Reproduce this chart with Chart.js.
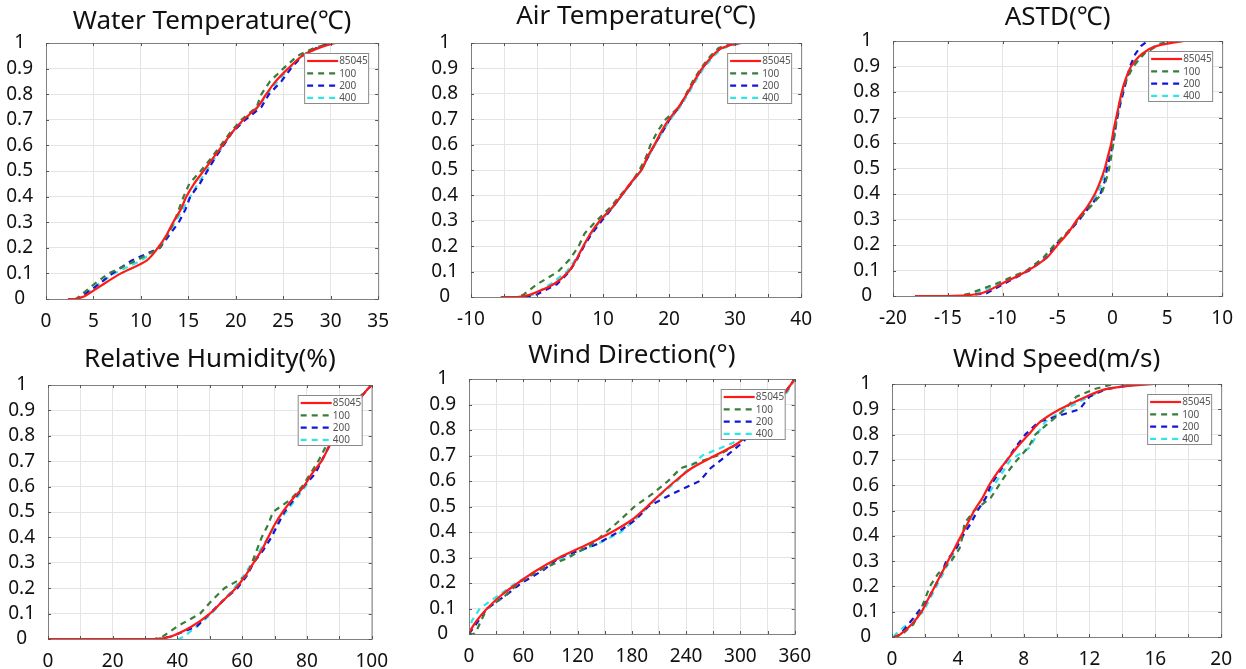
<!DOCTYPE html>
<html>
<head>
<meta charset="utf-8">
<script src="https://cdn.jsdelivr.net/npm/chart.js@4.4.1/dist/chart.umd.min.js"></script>
<style>
    html, body { margin: 0; padding: 0; background: #fff; overflow: hidden; }
    body { width: 1246px; height: 669px; position: relative; }
    canvas { position: absolute; }
</style>
</head>
<body>
<canvas id="c0"></canvas>
<canvas id="c1"></canvas>
<canvas id="c2"></canvas>
<canvas id="c3"></canvas>
<canvas id="c4"></canvas>
<canvas id="c5"></canvas>
<script>
// cumulative probability levels shared by every curve (0 and 1 repeated for the flat tails)
const levels = [0, 0, 0.01, 0.05, 0.1, 0.15, 0.2, 0.25, 0.3, 0.35, 0.4, 0.45, 0.5, 0.55, 0.6, 0.65, 0.7, 0.75, 0.8, 0.85, 0.9, 0.95, 0.98, 1, 1];
const seriesNames = ['85045', '100', '200', '400'];

// Water temperature, x value reached at each level
const water85045 = [2.3, 3.0, 4.0, 5.7, 7.9, 10.6, 11.8, 12.7, 13.4, 14.2, 14.8, 15.6, 16.6, 17.6, 18.6, 19.6, 20.8, 22.3, 23.2, 24.2, 25.5, 27.0, 28.7, 30.5, 31.5];
const water100   = [3.0, 3.2, 3.5, 4.8, 6.6, 9.5, 12.0, 12.8, 13.5, 14.0, 14.5, 15.1, 16.3, 17.4, 18.4, 19.4, 20.6, 22.2, 22.7, 23.6, 25.0, 26.5, 28.2, 30.0, 30.5];
const water200   = [3.0, 3.2, 3.7, 5.3, 7.0, 9.0, 12.0, 13.0, 14.0, 14.7, 15.2, 16.2, 17.0, 17.8, 18.7, 19.6, 21.0, 22.7, 23.5, 24.8, 25.8, 27.0, 28.5, 30.0, 30.5];
const water400   = [3.2, 3.4, 3.8, 5.2, 7.2, 10.0, 12.0, 12.8, 13.6, 14.4, 15.2, 16.0, 16.9, 17.8, 18.7, 19.6, 20.9, 22.4, 23.3, 24.4, 25.6, 27.0, 28.5, 30.5, 31.0];

// Air temperature
const air85045 = [-5.5, -3.0, -1.0, 2.5, 4.8, 6.0, 7.0, 8.1, 9.5, 11.3, 12.8, 14.2, 15.8, 16.7, 17.8, 18.8, 20.0, 21.5, 22.7, 23.8, 25.0, 26.6, 28.0, 31.0, 35.5];
const air100   = [-4.0, -3.0, -2.0, 0.0, 3.2, 5.0, 6.3, 7.2, 9.0, 11.0, 12.6, 14.3, 15.5, 16.5, 17.2, 18.2, 19.5, 21.6, 22.6, 23.6, 24.8, 26.3, 27.5, 30.0, 34.0];
const air200   = [-3.5, -2.0, 0.0, 3.0, 4.9, 6.1, 7.1, 8.3, 9.8, 11.4, 12.8, 14.3, 15.8, 16.8, 17.8, 19.0, 20.1, 21.6, 22.7, 23.8, 25.0, 26.5, 27.8, 30.0, 34.0];
const air400   = [-3.0, -2.0, -0.5, 2.0, 4.5, 5.9, 7.0, 8.2, 9.6, 11.4, 12.9, 14.3, 15.9, 16.8, 17.9, 19.0, 20.2, 21.7, 22.9, 24.0, 25.2, 26.8, 28.2, 31.0, 33.0];

// ASTD
const astd85045 = [-18.0, -15.0, -12.0, -10.0, -7.7, -6.0, -5.0, -4.0, -3.2, -2.3, -1.6, -1.1, -0.7, -0.4, -0.1, 0.1, 0.35, 0.6, 0.85, 1.2, 1.7, 2.7, 4.0, 6.5, 7.2];
const astd100   = [-14.5, -14.0, -13.0, -10.5, -7.8, -6.3, -5.3, -4.1, -3.1, -2.0, -1.0, -0.6, -0.3, -0.1, 0.1, 0.25, 0.4, 0.6, 0.9, 1.3, 1.9, 2.9, 4.0, 5.0, 5.2];
const astd200   = [-14.5, -14.0, -11.5, -9.8, -7.6, -6.0, -5.2, -4.0, -3.0, -2.1, -1.1, -0.7, -0.5, -0.2, 0.05, 0.25, 0.45, 0.7, 1.0, 1.3, 1.6, 2.1, 2.6, 3.2, 3.5];
const astd400   = [-14.5, -14.0, -12.5, -10.2, -7.8, -6.2, -5.2, -4.1, -3.0, -2.1, -1.4, -0.9, -0.6, -0.3, 0.0, 0.2, 0.45, 0.7, 0.95, 1.3, 1.8, 2.8, 3.8, 4.8, 5.0];

// Relative humidity
const rh85045 = [0, 33, 38, 44.5, 50, 54, 58, 61, 63.5, 66, 68, 70, 72.5, 75.5, 79, 81.5, 84.5, 86.5, 88.5, 90.5, 93, 96.5, 98.5, 100, 100];
const rh100   = [32, 33, 35.5, 40, 47, 50.5, 54.5, 61.5, 63, 64.5, 66, 68, 69.5, 75, 78.5, 81, 83.5, 85.5, 88, 90, 92.5, 96, 98.5, 100, 100];
const rh200   = [33, 34, 38, 46, 50, 54, 58.5, 61.5, 63.5, 66.5, 69, 71, 73, 76, 79, 82.5, 84.5, 86.5, 88.5, 90.5, 93, 96.5, 98.5, 100, 100];
const rh400   = [40, 40.5, 42, 46, 50.5, 54, 57.5, 60.5, 63, 65.5, 68, 70.5, 73.5, 76.5, 79.5, 82, 84.5, 86.5, 88.5, 90.5, 93, 96.5, 98.5, 100, 100];

// Wind direction
const wd85045 = [0, 0, 1, 8, 20, 35, 54, 75, 100, 130, 158, 181, 197, 212, 228, 246, 272, 298, 312, 325, 338, 350, 356, 360, 360];
const wd100   = [0, 5, 8, 13, 20, 40, 55, 78, 110, 135, 152, 168, 183, 203, 220, 234, 275, 299, 312, 325, 338, 350, 356, 360, 360];
const wd200   = [0, 0, 2, 10, 20, 40, 58, 82, 100, 140, 165, 185, 198, 225, 255, 267, 285, 302, 315, 328, 340, 350, 356, 360, 360];
const wd400   = [0, 0, 0.5, 3, 12, 32, 52, 76, 105, 140, 168, 184, 198, 213, 230, 243, 258, 292, 314, 328, 340, 352, 357, 360, 360];

// Wind speed
const ws85045 = [0.1, 0.15, 0.5, 1.2, 1.8, 2.2, 2.6, 3.0, 3.4, 3.8, 4.2, 4.6, 5.0, 5.5, 5.9, 6.4, 7.0, 7.6, 8.3, 9.0, 10.2, 11.8, 13.0, 16.0, 19.0];
const ws100   = [0.1, 0.2, 0.6, 1.3, 1.7, 2.0, 2.3, 2.8, 3.6, 4.1, 4.3, 4.4, 5.0, 6.0, 6.5, 7.0, 7.6, 8.3, 8.7, 9.6, 10.5, 11.2, 12.3, 13.5, 14.0];
const ws200   = [0.1, 0.15, 0.5, 1.0, 1.6, 2.2, 2.6, 3.0, 3.3, 3.9, 4.3, 4.8, 5.2, 5.7, 6.0, 6.5, 7.0, 7.5, 8.1, 8.9, 11.4, 12.0, 13.0, 15.0, 15.5];
const ws400   = [0.1, 0.1, 0.2, 0.9, 1.9, 2.3, 2.7, 3.1, 3.5, 3.9, 4.3, 4.7, 5.2, 5.7, 6.2, 6.7, 7.2, 8.4, 8.8, 9.3, 10.5, 12.0, 13.0, 15.0, 15.5];

const panels = [
    { title: 'Water Temperature(℃)', xMin: 0, xMax: 35, gridStep: 5, labelStep: 5, series: [water85045, water100, water200, water400] },
    { title: 'Air Temperature(℃)', xMin: -10, xMax: 40, gridStep: 5, labelStep: 10, series: [air85045, air100, air200, air400] },
    { title: 'ASTD(℃)', xMin: -20, xMax: 10, gridStep: 5, labelStep: 5, series: [astd85045, astd100, astd200, astd400] },
    { title: 'Relative Humidity(%)', xMin: 0, xMax: 100, gridStep: 10, labelStep: 20, series: [rh85045, rh100, rh200, rh400] },
    { title: 'Wind Direction(°)', xMin: 0, xMax: 360, gridStep: 30, labelStep: 60, series: [wd85045, wd100, wd200, wd400] },
    { title: 'Wind Speed(m/s)', xMin: 0, xMax: 20, gridStep: 2, labelStep: 4, series: [ws85045, ws100, ws200, ws400] }
];

// plot box of each panel on the page (left, top, right, bottom) and title centre y
const boxes = [
    [46, 43, 380, 299, 22],
    [471, 43, 803, 297, 17],
    [893, 41, 1224, 296, 18],
    [48, 385, 379, 639, 360],
    [469, 379, 802, 634, 356],
    [892, 384, 1223, 637, 360]
];

const colors = ['#ff1a1a', '#3a7d3a', '#1515d8', '#2ee6e6'];
const FONT = "'Noto Sans', 'DejaVu Sans', sans-serif";
const Y_AXIS_W = 46, X_AXIS_H = 34, PAD_TOP = 45, PAD_RIGHT = 20;

// gray frame with small inward ticks, title and inset legend
const decorations = {
    id: 'decorations',
    afterDatasetsDraw(chart, args, opts) {
        const ctx = chart.ctx;
        const a = chart.chartArea;
        ctx.save();
        ctx.strokeStyle = '#808080';
        ctx.lineWidth = 1;
        ctx.strokeRect(a.left + 0.5, a.top + 0.5, a.right - a.left, a.bottom - a.top);

        ctx.strokeStyle = '#555';
        ctx.beginPath();
        chart.scales.x.ticks.forEach(function(t) {
            const px = Math.round(chart.scales.x.getPixelForValue(t.value)) + 0.5;
            ctx.moveTo(px, a.bottom); ctx.lineTo(px, a.bottom - 3);
            ctx.moveTo(px, a.top); ctx.lineTo(px, a.top + 3);
        });
        chart.scales.y.ticks.forEach(function(t) {
            const py = Math.round(chart.scales.y.getPixelForValue(t.value)) + 0.5;
            ctx.moveTo(a.left, py); ctx.lineTo(a.left + 3, py);
            ctx.moveTo(a.right, py); ctx.lineTo(a.right - 3, py);
        });
        ctx.stroke();

        // title
        ctx.fillStyle = '#111';
        ctx.font = '26px ' + FONT;
        ctx.textAlign = 'center';
        ctx.textBaseline = 'middle';
        ctx.fillText(opts.title, (a.left + a.right) / 2, opts.titleY);

        // legend
        const w = 64, h = 50;
        const lx = a.right - 10 - w, ly = a.top + 10;
        ctx.fillStyle = '#fff';
        ctx.fillRect(lx, ly, w, h);
        ctx.strokeStyle = '#8a8a8a';
        ctx.lineWidth = 1;
        ctx.strokeRect(lx + 0.5, ly + 0.5, w, h);
        ctx.font = '10px ' + FONT;
        ctx.textAlign = 'left';
        chart.data.datasets.forEach(function(ds, i) {
            const y = ly + 8 + i * 12.3;
            ctx.strokeStyle = ds.borderColor;
            ctx.lineWidth = ds.borderWidth;
            ctx.setLineDash(ds.borderDash || []);
            ctx.beginPath();
            ctx.moveTo(lx + 3, y);
            ctx.lineTo(lx + 34, y);
            ctx.stroke();
            ctx.setLineDash([]);
            ctx.fillStyle = '#555';
            ctx.fillText(ds.label, lx + 35, y + 0.5);
        });
        ctx.restore();
    }
};

panels.forEach(function(p, idx) {
    const b = boxes[idx];
    const canvas = document.getElementById('c' + idx);
    const x0 = b[0] - Y_AXIS_W;
    const y0 = b[1] - PAD_TOP;
    canvas.width = b[2] - x0 + PAD_RIGHT;
    canvas.height = b[3] - y0 + X_AXIS_H;
    canvas.style.left = x0 + 'px';
    canvas.style.top = y0 + 'px';

    const datasets = p.series.map(function(xs, i) {
        const pts = [];
        xs.forEach(function(x, k) {
            const last = pts[pts.length - 1];
            if (!last || last.x !== x || last.y !== levels[k]) pts.push({ x: x, y: levels[k] });
        });
        return {
            label: seriesNames[i],
            data: pts,
            borderColor: colors[i],
            borderWidth: 2.2,
            borderDash: i === 0 ? [] : [6, 5],
            pointRadius: 0,
            tension: i === 0 ? 0.3 : 0,
            fill: false
        };
    });

    new Chart(canvas, {
        type: 'line',
        data: { datasets: datasets },
        options: {
            responsive: false,
            animation: false,
            devicePixelRatio: 1,
            layout: { padding: { left: 0, top: PAD_TOP, right: PAD_RIGHT, bottom: 0 } },
            plugins: {
                legend: { display: false },
                tooltip: { enabled: false },
                decorations: { title: p.title, titleY: b[4] - y0 }
            },
            scales: {
                x: {
                    type: 'linear',
                    min: p.xMin,
                    max: p.xMax,
                    afterFit: function(s) { s.height = X_AXIS_H; },
                    grid: { color: '#e4e4e4', drawTicks: false },
                    border: { display: false },
                    ticks: {
                        stepSize: p.gridStep,
                        autoSkip: false,
                        maxRotation: 0,
                        padding: 11,
                        color: '#111',
                        font: { family: FONT, size: 19 },
                        callback: function(v) {
                            const r = Math.round(v / p.labelStep) * p.labelStep;
                            return Math.abs(r - v) < 1e-9 ? String(r) : '';
                        }
                    }
                },
                y: {
                    min: 0,
                    max: 1,
                    afterFit: function(s) { s.width = Y_AXIS_W; },
                    grid: { color: '#e4e4e4', drawTicks: false },
                    border: { display: false },
                    ticks: {
                        stepSize: 0.1,
                        autoSkip: false,
                        padding: 13,
                        crossAlign: 'center',
                        color: '#111',
                        font: { family: FONT, size: 19 },
                        callback: function(v) { return String(Math.round(v * 10) / 10); }
                    }
                }
            }
        },
        plugins: [decorations]
    });
});
</script>
</body>
</html>
